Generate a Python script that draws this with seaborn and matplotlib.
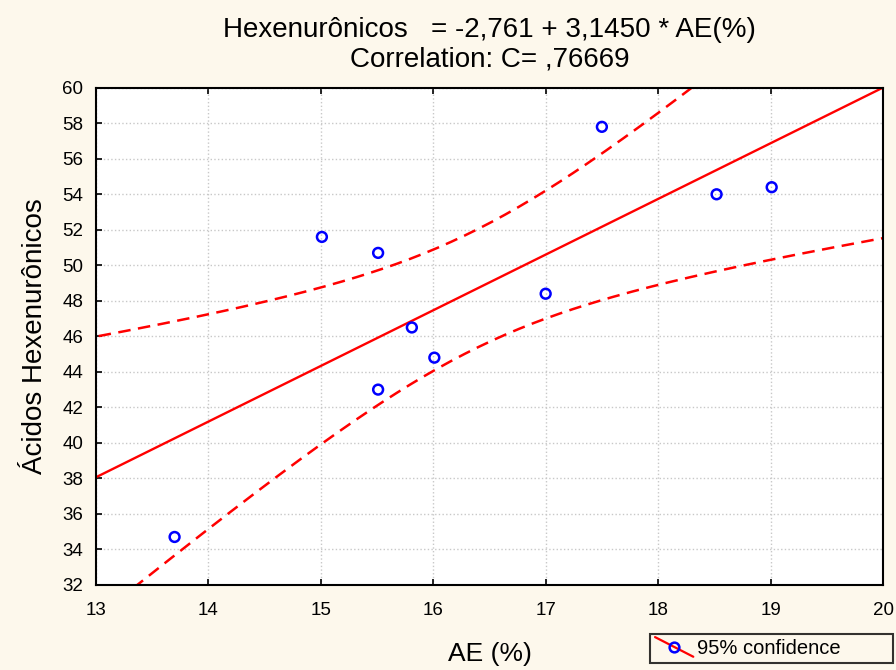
import numpy as np
import pandas as pd
import matplotlib
matplotlib.use("Agg")
import matplotlib.pyplot as plt
import seaborn as sns
from matplotlib.lines import Line2D
from matplotlib.legend_handler import HandlerBase

# data
ae_pct = [13.70, 15.01, 15.51, 15.51, 15.81, 16.01, 17.00, 17.50, 18.52, 19.01]
hexa = [34.7, 51.6, 50.7, 43.0, 46.5, 44.8, 48.4, 57.8, 54.0, 54.4]
x_ticks = [13, 14, 15, 16, 17, 18, 19, 20]
y_ticks = [32, 34, 36, 38, 40, 42, 44, 46, 48, 50, 52, 54, 56, 58, 60]
title = "Hexenurônicos   = -2,761 + 3,1450 * AE(%)\nCorrelation: C= ,76669"

df = pd.DataFrame({"AE": ae_pct, "HexA": hexa})

sns.set_style("white")
plt.rcParams["font.family"] = ["Liberation Sans", "DejaVu Sans"]
plt.rcParams["text.color"] = "black"
plt.rcParams["axes.labelcolor"] = "black"
plt.rcParams["xtick.color"] = "black"
plt.rcParams["ytick.color"] = "black"


class DiagHandler(HandlerBase):
    # red diagonal line with the open blue circle in the middle
    def create_artists(self, legend, orig, xd, yd, width, height, fontsize, trans):
        ln = Line2D([0, width], [height + 2, -2], color="red", lw=1.6, transform=trans)
        mk = Line2D([width / 2], [height / 2], marker="o", markersize=7, ls="none",
                    markerfacecolor="none", markeredgecolor="blue",
                    markeredgewidth=1.8, transform=trans)
        return [ln, mk]


fig = plt.figure(figsize=(8.96, 6.70), dpi=100, facecolor="#fdf8ec")
ax = fig.add_axes([0.107, 0.127, 0.8785, 0.742])
ax.set_facecolor("white")
ax.set_xlim(13, 20)
ax.set_ylim(32, 60)

# regression line over the whole axis (limits set first so it spans them)
sns.regplot(data=df, x="AE", y="HexA", ax=ax, ci=None, truncate=False,
            scatter=False, line_kws={"color": "red", "lw": 1.7})

# 95% confidence band of the mean response
x = df["AE"].values
y = df["HexA"].values
n = len(x)
b1, b0 = np.polyfit(x, y, 1)
resid = y - (b0 + b1 * x)
s = np.sqrt((resid ** 2).sum() / (n - 2))
t975 = 2.306  # t(0.975, df=8)
xs = np.linspace(12.5, 20.5, 200)
se = s * np.sqrt(1 / n + (xs - x.mean()) ** 2 / ((x - x.mean()) ** 2).sum())
yfit = b0 + b1 * xs
ax.plot(xs, yfit + t975 * se, color="red", ls=(0, (5, 3)), lw=1.8)
ax.plot(xs, yfit - t975 * se, color="red", ls=(0, (5, 3)), lw=1.8)

sns.scatterplot(data=df, x="AE", y="HexA", ax=ax, marker="o", s=50,
                facecolor="none", edgecolor="blue", linewidth=1.8, zorder=5)

ax.set_xlim(13, 20)
ax.set_ylim(32, 60)
ax.set_xticks(x_ticks)
ax.set_yticks(y_ticks)
ax.tick_params(axis="both", labelsize=13.5, direction="in", length=4, width=1.2,
               top=True, right=False, left=True, bottom=True)
ax.tick_params(axis="x", pad=12)
ax.tick_params(axis="y", pad=9)
ax.grid(True, color="#c8c8c8", ls=":", lw=1)
for sp in ax.spines.values():
    sp.set_color("black")
    sp.set_linewidth(1.5)

ax.set_xlabel("AE (%)", fontsize=19, labelpad=17)
ax.set_ylabel("Ácidos Hexenurônicos", fontsize=20, labelpad=10)
ax.set_title(title, fontsize=20, pad=15, linespacing=1.2)

leg = fig.legend([object()], ["95% confidence"], handler_map={object: DiagHandler()},
                 loc="lower left", mode="expand",
                 bbox_to_anchor=(650 / 896, 7 / 670, 243 / 896, 33 / 670),
                 borderaxespad=0, fontsize=14.5, frameon=True, fancybox=False,
                 handlelength=1.9, borderpad=0.25, handletextpad=0.2)
leg.get_frame().set_edgecolor("black")
leg.get_frame().set_linewidth(1.5)
leg.get_frame().set_facecolor("#fdf8ec")

fig.savefig("out.png", dpi=100, facecolor=fig.get_facecolor())
